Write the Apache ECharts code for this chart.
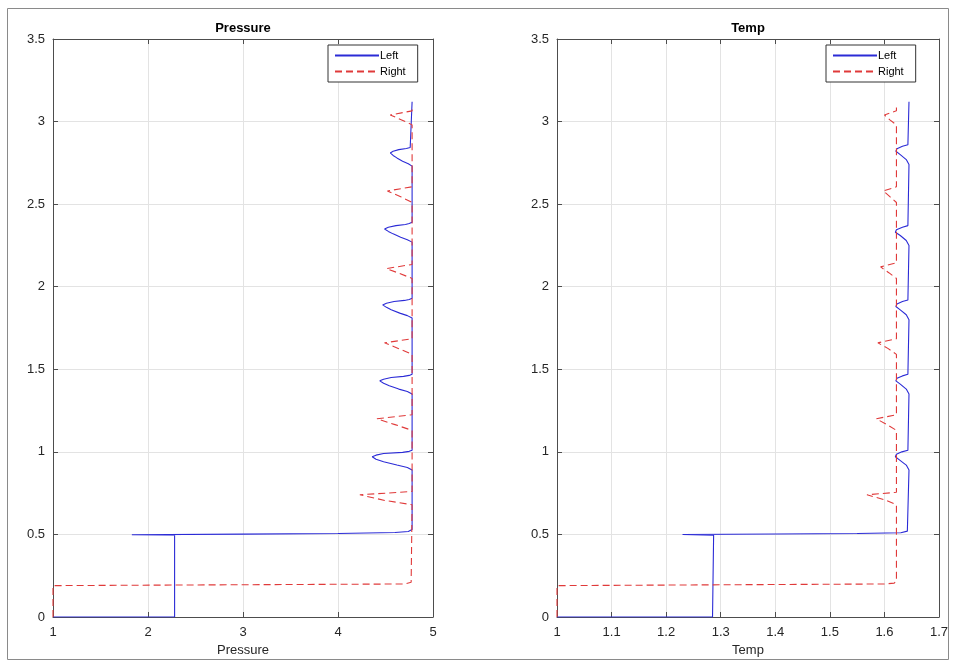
<!DOCTYPE html>
<html><head><meta charset="utf-8">
<script src="https://cdn.jsdelivr.net/npm/echarts@6/dist/echarts.min.js"></script>
<style>html,body{margin:0;padding:0;background:#fff}#c{width:956px;height:664px}</style>
</head><body><div id="c"></div>
<script>
// ---- tick / axis values ----
const yTicks = [0, 0.5, 1, 1.5, 2, 2.5, 3, 3.5];
const pressureTicks = [1, 2, 3, 4, 5];
const tempTicks = [1, 1.1, 1.2, 1.3, 1.4, 1.5, 1.6, 1.7];
const seriesNames = ['Left', 'Right'];
const panelTitles = ['Pressure', 'Temp'];

// ---- Pressure, Left (solid blue) ----
const pressureLeftX = [1, 2.28, 2.28, 1.83, 3.0, 4.0, 4.6, 4.74, 4.78,
  4.78, 4.73, 4.62, 4.48, 4.40, 4.36, 4.40, 4.48, 4.68, 4.75, 4.78,
  4.78, 4.73, 4.64, 4.54, 4.48, 4.44, 4.48, 4.56, 4.69, 4.75, 4.78,
  4.78, 4.73, 4.65, 4.56, 4.51, 4.47, 4.51, 4.59, 4.70, 4.75, 4.78,
  4.78, 4.73, 4.66, 4.58, 4.53, 4.49, 4.53, 4.61, 4.71, 4.75, 4.78,
  4.78, 4.74, 4.68, 4.62, 4.58, 4.55, 4.58, 4.64, 4.72, 4.76, 4.78,
  4.78];
const pressureLeftY = [0, 0, 0.495, 0.498, 0.502, 0.506, 0.512, 0.518, 0.53,
  0.89, 0.905, 0.92, 0.94, 0.955, 0.97, 0.98, 0.99, 0.997, 1.003, 1.01,
  1.35, 1.365, 1.38, 1.40, 1.415, 1.43, 1.44, 1.45, 1.457, 1.463, 1.47,
  1.81, 1.825, 1.84, 1.86, 1.875, 1.89, 1.90, 1.91, 1.917, 1.923, 1.93,
  2.27, 2.285, 2.30, 2.32, 2.335, 2.35, 2.36, 2.37, 2.377, 2.383, 2.39,
  2.73, 2.745, 2.76, 2.78, 2.795, 2.81, 2.82, 2.83, 2.837, 2.843, 2.85,
  3.12];

// ---- Pressure, Right (dashed red) ----
const pressureRightX = [1, 1, 4.7, 4.77, 4.78,
  4.78, 4.5, 4.23, 4.78,
  4.78, 4.6, 4.41, 4.78,
  4.78, 4.64, 4.49, 4.78,
  4.78, 4.65, 4.51, 4.78,
  4.78, 4.66, 4.52, 4.78,
  4.78, 4.67, 4.55, 4.78,
  4.78];
const pressureRightY = [0, 0.19, 0.2, 0.21, 0.22,
  0.68, 0.705, 0.74, 0.76,
  1.13, 1.165, 1.2, 1.225,
  1.59, 1.625, 1.66, 1.685,
  2.05, 2.08, 2.11, 2.135,
  2.51, 2.545, 2.58, 2.605,
  2.98, 3.01, 3.04, 3.065,
  3.08];

// ---- Temp, Left (solid blue) ----
const tempLeftX = [1, 1.285, 1.287, 1.23, 1.4, 1.55, 1.63, 1.642, 1.645,
  1.645, 1.64, 1.628, 1.62, 1.622, 1.632, 1.643, 1.645,
  1.645, 1.64, 1.629, 1.621, 1.623, 1.633, 1.643, 1.645,
  1.645, 1.64, 1.629, 1.621, 1.623, 1.633, 1.643, 1.645,
  1.645, 1.64, 1.629, 1.62, 1.622, 1.633, 1.643, 1.645,
  1.645, 1.64, 1.629, 1.621, 1.623, 1.633, 1.643, 1.645,
  1.645];
const tempLeftY = [0, 0, 0.495, 0.5, 0.503, 0.506, 0.51, 0.52, 0.53,
  0.89, 0.92, 0.95, 0.97, 0.985, 1.0, 1.01, 1.02,
  1.35, 1.38, 1.41, 1.43, 1.445, 1.46, 1.47, 1.48,
  1.8, 1.83, 1.86, 1.88, 1.895, 1.91, 1.92, 1.93,
  2.25, 2.28, 2.31, 2.33, 2.345, 2.36, 2.37, 2.38,
  2.74, 2.77, 2.8, 2.82, 2.835, 2.85, 2.86, 2.87,
  3.12];

// ---- Temp, Right (dashed red) ----
const tempRightX = [1, 1, 1.6, 1.618, 1.622,
  1.622, 1.6, 1.568, 1.622,
  1.622, 1.605, 1.585, 1.622,
  1.622, 1.607, 1.588, 1.622,
  1.622, 1.608, 1.593, 1.622,
  1.622, 1.61, 1.598, 1.622,
  1.622, 1.61, 1.6, 1.622,
  1.622];
const tempRightY = [0, 0.19, 0.2, 0.205, 0.22,
  0.68, 0.71, 0.74, 0.755,
  1.13, 1.165, 1.2, 1.225,
  1.59, 1.625, 1.66, 1.685,
  2.05, 2.085, 2.12, 2.145,
  2.51, 2.545, 2.58, 2.605,
  2.98, 3.01, 3.04, 3.065,
  3.1];

function zip(xs, ys) { return xs.map((x, i) => [x, ys[i]]); }

const FONT = 'Liberation Sans, Arial, sans-serif';
const AXIS_COLOR = '#4d4d4d';
const GRID_COLOR = '#e3e3e3';
const BLUE = '#2b2bd6';
const RED = '#e03a3a';

function fmt(v) { return String(Math.round(v * 10) / 10); }

function xAxes(gridIndex, ticks, name) {
  const min = ticks[0], max = ticks[ticks.length - 1];
  const interval = Math.round((ticks[1] - ticks[0]) * 10) / 10;
  return [
    {
      type: 'value', gridIndex, min, max, interval, position: 'bottom',
      name, nameLocation: 'middle', nameGap: 27,
      nameTextStyle: { fontFamily: FONT, fontSize: 13, color: '#262626' },
      axisLine: { show: true, onZero: false, lineStyle: { color: AXIS_COLOR, width: 1 } },
      axisTick: { show: true, inside: true, length: 5, lineStyle: { color: AXIS_COLOR } },
      axisLabel: { fontFamily: FONT, fontSize: 13, color: '#262626', margin: 9, formatter: fmt },
      splitLine: { show: true, lineStyle: { color: GRID_COLOR, width: 1 } }
    },
    {
      type: 'value', gridIndex, min, max, interval, position: 'top',
      axisLine: { show: true, onZero: false, lineStyle: { color: AXIS_COLOR, width: 1 } },
      axisTick: { show: true, inside: true, length: 5, lineStyle: { color: AXIS_COLOR } },
      axisLabel: { show: false }, splitLine: { show: false }
    }
  ];
}
function yAxes(gridIndex) {
  const min = yTicks[0], max = yTicks[yTicks.length - 1];
  const interval = yTicks[1] - yTicks[0];
  return [
    {
      type: 'value', gridIndex, min, max, interval, position: 'left',
      axisLine: { show: true, onZero: false, lineStyle: { color: AXIS_COLOR, width: 1 } },
      axisTick: { show: true, inside: true, length: 5, lineStyle: { color: AXIS_COLOR } },
      axisLabel: { fontFamily: FONT, fontSize: 13, color: '#262626', margin: 8, formatter: fmt },
      splitLine: { show: true, lineStyle: { color: GRID_COLOR, width: 1 } }
    },
    {
      type: 'value', gridIndex, min, max, interval, position: 'right',
      axisLine: { show: true, onZero: false, lineStyle: { color: AXIS_COLOR, width: 1 } },
      axisTick: { show: true, inside: true, length: 5, lineStyle: { color: AXIS_COLOR } },
      axisLabel: { show: false }, splitLine: { show: false }
    }
  ];
}

function lineSeries(name, data, axisIdx, color, dashed) {
  return {
    name, type: 'line', data, xAxisIndex: axisIdx, yAxisIndex: axisIdx,
    symbol: 'none', showSymbol: false, smooth: false, animation: false,
    clip: true, z: dashed ? 3 : 2,
    lineStyle: { color, width: 1.1, type: dashed ? [7, 4] : 'solid' },
    itemStyle: { color }
  };
}

function legend(left) {
  return {
    data: seriesNames, orient: 'vertical', left, top: 45,
    itemWidth: 44, itemHeight: 8, itemGap: 5,
    padding: [5, 12, 5, 6],
    backgroundColor: '#fff', borderColor: '#333', borderWidth: 1, borderRadius: 0,
    itemStyle: { opacity: 0 },
    textStyle: { fontFamily: FONT, fontSize: 11, color: '#000', padding: [0, 0, 0, -4] },
    selectedMode: false
  };
}

const chart = echarts.init(document.getElementById('c'), null, { renderer: 'canvas' });
chart.setOption({
  animation: false,
  backgroundColor: '#fff',
  grid: [
    { left: 53, top: 39, width: 380, height: 578 },
    { left: 557, top: 39, width: 382, height: 578 }
  ],
  xAxis: [...xAxes(0, pressureTicks, panelTitles[0]), ...xAxes(1, tempTicks, panelTitles[1])],
  yAxis: [...yAxes(0), ...yAxes(1)],
  legend: [legend(328), legend(826)],
  series: [
    lineSeries(seriesNames[0], zip(pressureLeftX, pressureLeftY), 0, BLUE, false),
    lineSeries(seriesNames[1], zip(pressureRightX, pressureRightY), 0, RED, true),
    lineSeries(seriesNames[0], zip(tempLeftX, tempLeftY), 2, BLUE, false),
    lineSeries(seriesNames[1], zip(tempRightX, tempRightY), 2, RED, true)
  ],
  graphic: [
    { type: 'rect', shape: { x: 7.5, y: 8.5, width: 941, height: 651 },
      style: { fill: 'none', stroke: '#8a8a8a', lineWidth: 1 }, silent: true, z: -1 },
    { type: 'text', x: 243, y: 28, style: { text: panelTitles[0], font: 'bold 13px ' + FONT, fill: '#000', textAlign: 'center', textVerticalAlign: 'middle' } },
    { type: 'text', x: 748, y: 28, style: { text: panelTitles[1], font: 'bold 13px ' + FONT, fill: '#000', textAlign: 'center', textVerticalAlign: 'middle' } }
  ]
});
</script>
</body></html>
